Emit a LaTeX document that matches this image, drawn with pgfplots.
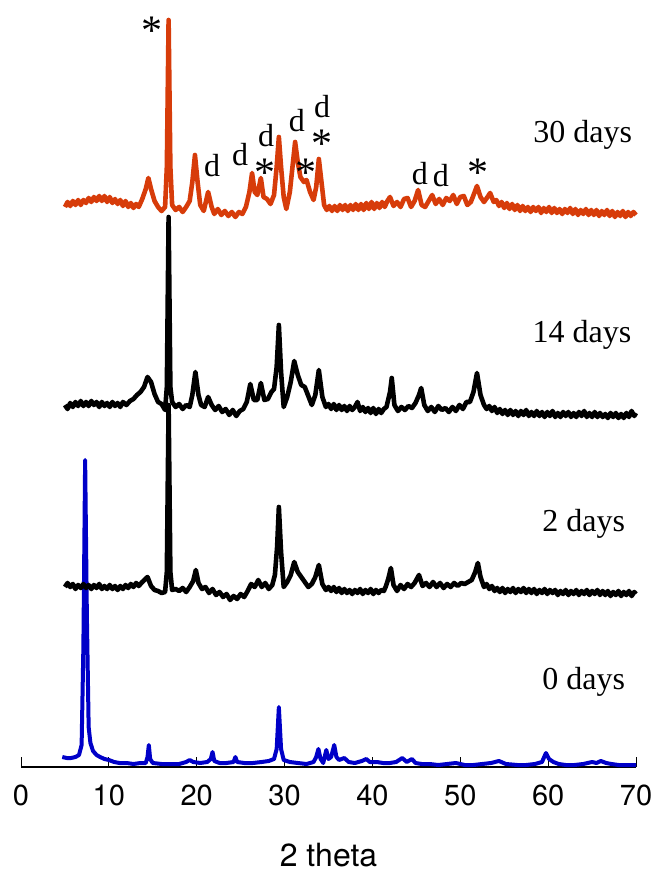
\documentclass[border=0pt]{standalone}
\usepackage{fontspec}
\setmainfont{Liberation Serif}
\newfontfamily\heros{TeX Gyre Heros}
\usepackage{pgfplots}
\pgfplotsset{compat=1.18}
\definecolor{xorange}{RGB}{215,60,10}
\definecolor{xblue}{RGB}{0,0,200}
\tikzset{ann/.style={anchor=base, inner sep=0pt, font=\fontsize{16}{16}\selectfont},
         star/.style={anchor=base, inner sep=0pt, font=\fontsize{21}{21}\selectfont}}
\begin{document}
\begin{tikzpicture}
\begin{axis}[name=ax, scale only axis, width=307.5pt, height=383.5pt,
  xmin=0, xmax=70, ymin=0, ymax=767,
  axis x line*=bottom, axis y line=none,
  xtick={0,10,...,70}, tick align=inside, major tick length=5pt,
  xtick style={black, line width=0.5pt},
  x axis line style={line width=0.6pt},
  /pgf/number format/assume math mode=true,
  xticklabel style={font=\fontsize{14.5}{14.5}\selectfont\heros, anchor=base, yshift=-19pt, inner sep=0pt},
  xlabel={2 theta},
  xlabel style={at={(axis description cs:0.5,0)}, anchor=base, yshift=-49.5pt, font=\fontsize{16}{16}\selectfont\heros, inner sep=0pt},
  clip=false,
  every axis plot/.append style={line width=2.3pt, line join=round, no markers}
]
% 0 days
\addplot[xblue, line width=2pt] table {
4.7 10
5.2 9
5.7 9
6.2 10
6.6 12
6.9 22
7.1 120
7.3 307
7.5 150
7.7 40
7.9 24
8.2 16
8.6 12
9.0 10
9.5 8
10.0 7
10.6 5
11.2 4
12.0 4
12.8 3
13.6 4
14.2 4
14.4 10
14.55 22
14.7 8
15.0 4
16.0 3
17.0 3
18.0 3
18.8 5
19.2 7
19.6 5
20.4 4
21.2 5
21.6 8
21.8 15
22.0 6
22.6 4
23.4 4
24.2 5
24.4 10
24.6 5
25.4 4
26.4 4
27.4 5
28.2 6
28.8 8
29.1 18
29.35 60
29.6 18
29.9 7
30.6 5
31.5 4
32.5 3
33.3 5
33.6 10
33.85 18
34.1 8
34.4 4
34.75 17
35.0 8
35.3 10
35.65 22
35.9 10
36.2 7
36.8 9
37.3 5
38.0 4
38.8 6
39.3 8
39.7 5
40.5 5
41.2 4
42.0 4
42.7 5
43.4 9
43.9 5
44.5 8
44.9 4
45.6 3
46.5 3
47.5 2
48.5 3
49.5 4
50.5 2
51.5 2
52.5 3
53.5 4
54.4 6
55.2 3
56.5 2
57.5 2
58.5 3
59.3 5
59.75 14
60.1 8
60.6 5
61.2 3
62.0 2
63.0 2
64.0 3
65.0 5
65.5 4
66.0 6
66.6 4
67.2 3
68.0 2
69.0 2
70.0 2
};
% 2 days
\addplot[black] table {
5.0 180
5.3 184
5.6 180
5.9 183
6.2 178
6.5 182
6.8 179
7.1 183
7.4 179
7.7 182
8.0 178
8.3 182
8.6 179
8.9 183
9.2 178
9.5 181
9.8 178
10.1 182
10.4 178
10.7 181
11.0 177
11.3 181
11.6 178
11.9 182
12.2 179
12.5 183
12.8 180
13.1 184
13.4 181
13.8 185
14.4 190
14.8 181
15.2 177
15.6 176
16.0 174
16.4 175
16.6 195
16.8 362
17.0 195
17.2 177
17.6 178
18.0 176
18.4 179
18.8 175
19.2 180
19.6 186
19.9 197
20.2 184
20.6 178
21.0 180
21.4 174
21.8 178
22.2 172
22.6 175
23.0 170
23.4 173
23.8 167
24.2 171
24.6 168
25.0 173
25.4 170
25.8 176
26.2 183
26.6 180
27.0 187
27.4 180
27.8 184
28.2 178
28.6 182
28.9 192
29.15 220
29.35 260
29.6 215
29.9 180
30.3 185
30.7 192
31.1 205
31.5 195
31.9 190
32.3 185
32.7 180
33.1 183
33.5 190
33.9 202
34.3 183
34.7 177
35.0 180
35.3 176
35.6 180
35.9 175
36.2 179
36.5 174
36.8 178
37.1 174
37.4 177
37.7 173
38.0 177
38.3 174
38.6 178
38.9 173
39.2 177
39.5 174
39.8 178
40.1 173
40.4 177
40.7 174
41.0 177
41.3 176
41.5 180
41.8 188
42.1 199
42.4 182
42.8 176
43.2 182
43.6 178
44.0 183
44.4 180
44.8 184
45.3 192
45.7 181
46.1 184
46.5 180
46.9 185
47.3 180
47.7 184
48.1 179
48.5 183
48.9 180
49.3 184
49.7 181
50.1 184
50.5 183
50.9 185
51.3 187
51.7 195
52.0 204
52.3 190
52.7 180
53.0 183
53.3 178
53.6 181
53.9 176
54.2 179
54.5 175
54.8 179
55.1 174
55.4 178
55.7 175
56.0 179
56.3 174
56.6 178
56.9 175
57.2 179
57.5 174
57.8 178
58.1 174
58.4 178
58.7 173
59.0 177
59.3 174
59.6 178
59.9 173
60.2 177
60.5 174
60.8 177
61.1 172
61.4 176
61.7 173
62.0 177
62.3 172
62.6 176
62.9 173
63.2 177
63.5 172
63.8 176
64.1 173
64.4 177
64.7 172
65.0 176
65.3 173
65.6 177
65.9 172
66.2 176
66.5 172
66.8 176
67.1 171
67.4 175
67.7 172
68.0 176
68.3 171
68.6 175
68.9 172
69.2 176
69.5 171
69.8 175
70.0 173
};
% 14 days
\addplot[black] table {
5.0 362
5.3 358
5.6 364
5.9 360
6.2 365
6.5 361
6.8 366
7.1 361
7.4 365
7.7 361
8.0 366
8.3 362
8.6 365
8.9 360
9.2 365
9.5 361
9.8 364
10.1 360
10.4 365
10.7 361
11.0 364
11.3 360
11.6 365
12.0 362
12.4 366
12.8 368
13.2 372
13.6 375
14.0 380
14.4 390
14.8 385
15.2 373
15.6 365
16.0 363
16.4 357
16.6 380
16.8 550
17.0 380
17.2 365
17.6 360
18.0 363
18.4 358
18.8 362
19.2 360
19.5 372
19.85 395
20.2 372
20.5 362
20.9 360
21.3 370
21.7 362
22.1 357
22.5 361
22.9 355
23.3 358
23.7 352
24.1 357
24.5 351
24.9 356
25.3 358
25.7 365
26.1 383
26.5 367
26.9 367
27.3 384
27.7 367
28.1 368
28.5 375
28.8 378
29.1 400
29.35 442
29.6 395
29.9 360
30.3 370
30.7 385
31.1 406
31.5 392
31.9 382
32.3 380
32.7 371
33.1 362
33.5 372
33.9 397
34.3 370
34.7 360
35.0 363
35.3 358
35.6 363
35.9 357
36.2 362
36.5 357
36.8 361
37.1 356
37.4 361
37.7 357
38.0 360
38.3 365
38.6 356
38.9 360
39.2 355
39.5 359
39.8 354
40.1 359
40.4 353
40.7 358
41.0 354
41.3 358
41.6 360
42.0 375
42.2 389
42.5 362
42.9 356
43.3 360
43.7 357
44.1 361
44.5 359
44.9 364
45.3 372
45.55 379
45.9 362
46.3 356
46.7 360
47.1 355
47.5 361
47.9 357
48.3 359
48.7 355
49.1 360
49.5 356
49.9 362
50.3 358
50.7 365
51.1 365
51.5 375
51.9 394
52.3 372
52.7 362
53.0 358
53.3 361
53.6 356
53.9 360
54.2 354
54.5 358
54.8 353
55.1 357
55.4 352
55.7 357
56.0 352
56.3 356
56.6 351
56.9 356
57.2 352
57.5 357
57.8 351
58.1 355
58.4 351
58.7 356
59.0 351
59.3 355
59.6 350
59.9 355
60.2 351
60.5 356
60.8 350
61.1 354
61.4 350
61.7 355
62.0 351
62.3 355
62.6 350
62.9 354
63.2 350
63.5 355
63.8 351
64.1 356
64.4 350
64.7 354
65.0 350
65.3 355
65.6 350
65.9 354
66.2 350
66.5 353
66.8 349
67.1 354
67.4 350
67.7 354
68.0 349
68.3 353
68.6 349
68.9 354
69.2 350
69.5 356
69.8 351
70.0 354
};
% 30 days
\addplot[xorange] table {
5.0 560
5.3 565
5.6 561
5.9 566
6.2 562
6.5 567
6.8 562
7.1 567
7.4 564
7.7 569
8.0 565
8.3 570
8.6 566
8.9 571
9.2 566
9.5 571
9.8 565
10.1 570
10.4 564
10.7 568
11.0 563
11.3 567
11.6 561
11.9 566
12.2 560
12.5 564
12.8 559
13.1 563
13.4 560
13.8 568
14.2 578
14.5 589
14.8 578
15.2 566
15.6 560
16.0 556
16.4 560
16.6 600
16.8 747
17.0 600
17.2 562
17.6 557
18.0 560
18.4 555
18.8 560
19.2 566
19.5 585
19.8 612
20.1 585
20.4 562
20.8 556
21.3 575
21.7 560
22.0 553
22.4 558
22.8 552
23.2 556
23.6 551
24.0 555
24.4 550
24.8 555
25.2 553
25.6 560
26.0 575
26.3 594
26.6 575
26.9 572
27.3 589
27.6 570
28.0 568
28.4 563
28.8 572
29.1 600
29.35 630
29.6 600
29.9 570
30.2 558
30.6 575
30.9 600
31.2 625
31.5 605
31.8 590
32.2 585
32.5 587
32.9 575
33.3 567
33.6 580
33.9 608
34.2 585
34.5 562
34.8 557
35.1 561
35.4 556
35.7 561
36.0 556
36.3 562
36.6 557
36.9 562
37.2 556
37.5 562
37.8 557
38.1 563
38.4 557
38.7 563
39.0 557
39.3 564
39.6 558
39.9 565
40.2 558
40.5 564
40.8 559
41.1 565
41.4 560
41.7 566
42.0 570
42.4 561
42.8 565
43.2 560
43.6 568
44.0 569
44.4 560
44.8 566
45.2 577
45.6 562
46.0 560
46.4 566
46.8 572
47.2 563
47.6 568
48.0 562
48.4 569
48.8 566
49.2 572
49.6 563
50.0 570
50.4 571
50.8 562
51.2 565
51.6 574
51.9 581
52.3 570
52.7 565
53.1 570
53.4 574
53.8 565
54.1 567
54.4 561
54.7 565
55.0 559
55.3 564
55.6 558
55.9 563
56.2 557
56.5 562
56.8 556
57.1 561
57.4 556
57.7 560
58.0 555
58.3 560
58.6 556
58.9 560
59.2 554
59.5 559
59.8 555
60.1 560
60.4 554
60.7 559
61.0 554
61.3 558
61.6 553
61.9 558
62.2 554
62.5 559
62.8 553
63.1 558
63.4 552
63.7 557
64.0 553
64.3 558
64.6 552
64.9 557
65.2 552
65.5 557
65.8 551
66.1 556
66.4 552
66.7 557
67.0 551
67.3 556
67.6 550
67.9 555
68.2 551
68.5 556
68.8 550
69.1 555
69.4 551
69.7 555
70.0 552
};
% series labels
\node[ann, anchor=base west] at (axis cs:58.27,624) {30 days};
\node[ann, anchor=base west] at (axis cs:58.2,424) {14 days};
\node[ann, anchor=base west] at (axis cs:59.3,235) {2 days};
\node[ann, anchor=base west] at (axis cs:59.3,77) {0 days};
% annotations
\node[star] at (axis cs:14.91,722) {*};
\node[ann] at (axis cs:21.74,590) {d};
\node[ann] at (axis cs:24.93,601) {d};
\node[ann] at (axis cs:27.89,620) {d};
\node[star] at (axis cs:27.77,580) {*};
\node[ann] at (axis cs:31.41,635) {d};
\node[star] at (axis cs:32.44,580) {*};
\node[ann] at (axis cs:34.26,649) {d};
\node[star] at (axis cs:34.26,609) {*};
\node[ann] at (axis cs:45.41,582) {d};
\node[ann] at (axis cs:47.80,580) {d};
\node[star] at (axis cs:52.01,580) {*};
\end{axis}
\pgfresetboundingbox
\path ([xshift=-10.5pt,yshift=-52pt]ax.south west) rectangle ([xshift=10pt]ax.north east);
\end{tikzpicture}
\end{document}
